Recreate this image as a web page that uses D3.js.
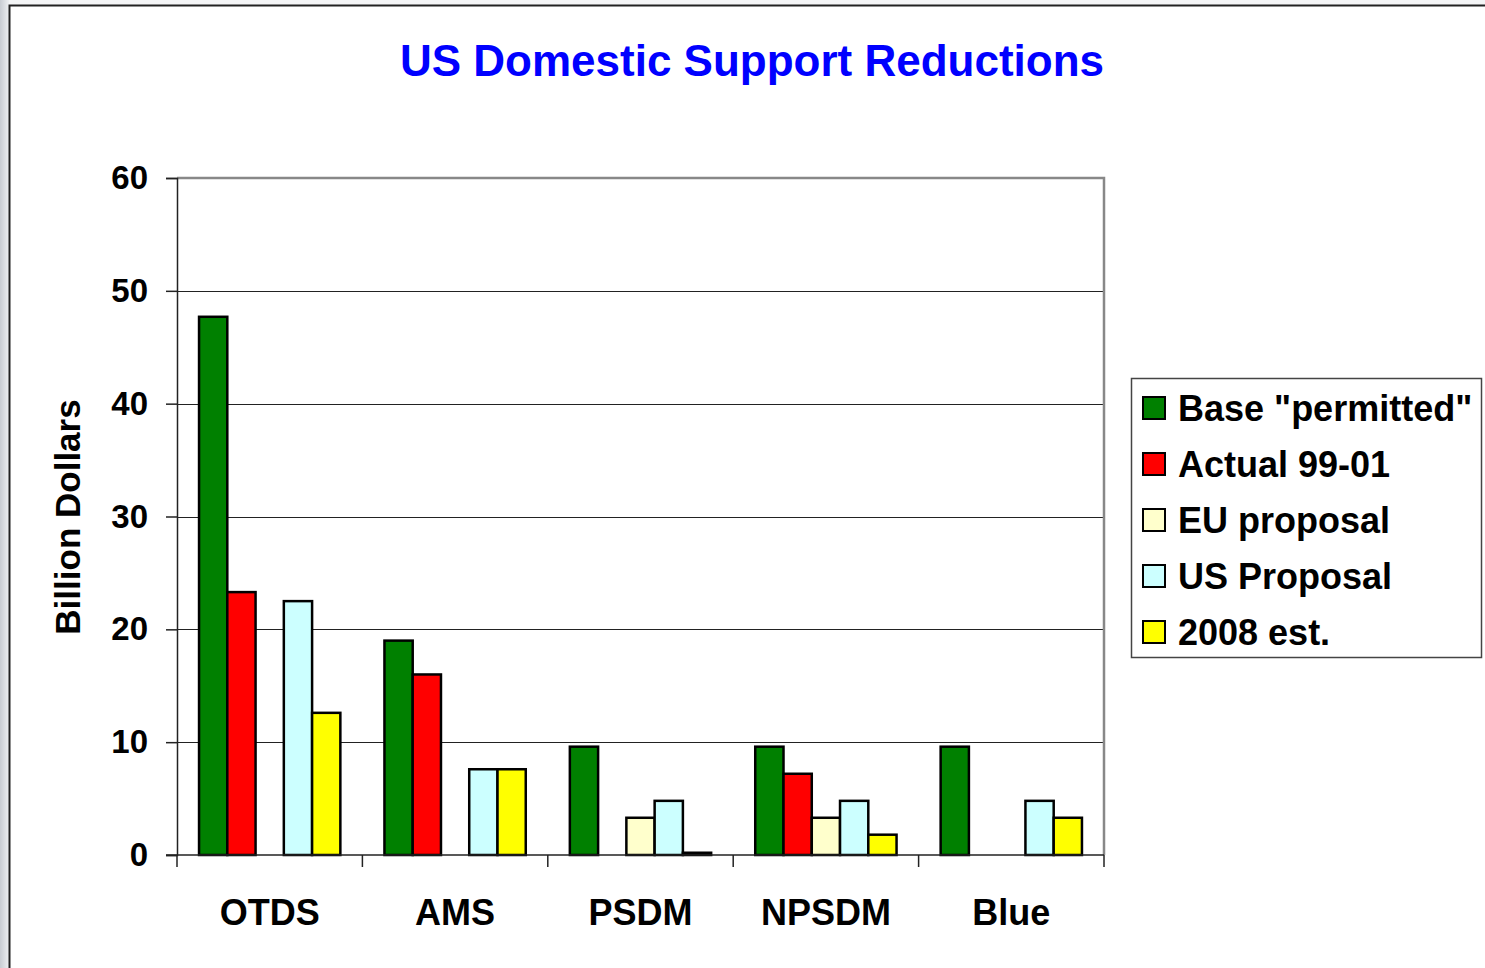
<!DOCTYPE html>
<html>
<head>
<meta charset="utf-8">
<script src="https://cdn.jsdelivr.net/npm/d3@7"></script>
<style>
  html, body { margin: 0; padding: 0; background: #fff; }
  svg { display: block; }
  text { font-family: "Liberation Sans", Arial, sans-serif; font-weight: bold; }
</style>
</head>
<body>
<svg id="chart" width="1485" height="968"></svg>
<script>
// Support categories and series (billion dollars)
const categories = ["OTDS", "AMS", "PSDM", "NPSDM", "Blue"];
const seriesNames = ["Base \"permitted\"", "Actual 99-01", "EU proposal", "US Proposal", "2008 est."];
const seriesColors = ["#008000", "#FF0000", "#FFFFCC", "#CCFFFF", "#FFFF00"];
const basePermitted = [47.7, 19.0, 9.6, 9.6, 9.6];
const actual9901   = [23.3, 16.0, 0, 7.2, 0];
const euProposal   = [0, 0, 3.3, 3.3, 0];
const usProposal   = [22.5, 7.6, 4.8, 4.8, 4.8];
const est2008      = [12.6, 7.6, 0.2, 1.8, 3.3];
const yTicks = [0, 10, 20, 30, 40, 50, 60];

const series = [basePermitted, actual9901, euProposal, usProposal, est2008];

const svg = d3.select("#chart");

// slide background strip and frame
const grad = svg.append("defs").append("linearGradient").attr("id", "edge")
  .attr("x1", 0).attr("x2", 1).attr("y1", 0).attr("y2", 0);
grad.append("stop").attr("offset", "0%").attr("stop-color", "#c8ccd2");
grad.append("stop").attr("offset", "100%").attr("stop-color", "#eef0f2");
svg.append("rect").attr("x", 0).attr("y", 0).attr("width", 9).attr("height", 968).attr("fill", "url(#edge)");
svg.append("rect").attr("x", 9).attr("y", 0).attr("width", 1476).attr("height", 5).attr("fill", "#f4f5f6");
svg.append("path").attr("d", "M9.5,968 V5.5 H1485").attr("fill", "none").attr("stroke", "#222").attr("stroke-width", 2);

const plot = { left: 177, right: 1104, top: 178, bottom: 855 };

const x0 = d3.scaleBand().domain(categories).range([plot.left, plot.right]).paddingInner(0).paddingOuter(0);
const x1 = d3.scaleBand().domain(d3.range(series.length)).range([0, x0.bandwidth()]).paddingInner(0).paddingOuter(0.78);
const y = d3.scaleLinear().domain([0, 60]).range([plot.bottom, plot.top]);

// gridlines
svg.append("g").selectAll("line").data(yTicks.filter(t => t > 0 && t < 60)).join("line")
  .attr("x1", plot.left).attr("x2", plot.right)
  .attr("y1", d => Math.round(y(d)) + 0.5).attr("y2", d => Math.round(y(d)) + 0.5)
  .attr("stroke", "#222").attr("stroke-width", 1);

// plot border (top/right grey)
svg.append("path")
  .attr("d", `M${plot.left},${plot.top} H${plot.right} V${plot.bottom}`)
  .attr("fill", "none").attr("stroke", "#888").attr("stroke-width", 2.5);

// bars
const groups = svg.append("g").selectAll("g").data(categories).join("g")
  .attr("transform", d => `translate(${x0(d)},0)`);
groups.selectAll("rect")
  .data((c, ci) => series.map((s, si) => ({ si, v: s[ci] })).filter(d => d.v > 0))
  .join("rect")
  .attr("x", d => x1(d.si))
  .attr("width", x1.bandwidth())
  .attr("y", d => y(d.v))
  .attr("height", d => y(0) - y(d.v))
  .attr("fill", d => seriesColors[d.si])
  .attr("stroke", "#000").attr("stroke-width", 2.5);

// y axis
const yAxis = d3.axisLeft(y).tickValues(yTicks).tickSize(11).tickPadding(18);
const ya = svg.append("g").attr("transform", `translate(${plot.left},0)`).call(yAxis);
ya.select(".domain").attr("stroke", "#222").attr("stroke-width", 1.5);
ya.selectAll(".tick line").attr("stroke", "#222").attr("stroke-width", 1.5);
ya.selectAll(".tick text").attr("font-size", 33).attr("fill", "#000")
  .attr("font-family", "Liberation Sans, Arial, sans-serif").attr("font-weight", "bold");

// x axis with ticks at category boundaries
const xa = svg.append("g").attr("transform", `translate(0,${plot.bottom})`);
xa.append("line").attr("x1", plot.left - 11).attr("x2", plot.right).attr("y1", 0).attr("y2", 0)
  .attr("stroke", "#222").attr("stroke-width", 1.5);
const bounds = categories.map(c => x0(c)).concat([plot.right]);
xa.selectAll(".bt").data(bounds).join("line").attr("class", "bt")
  .attr("x1", d => d).attr("x2", d => d).attr("y1", 0).attr("y2", 12)
  .attr("stroke", "#222").attr("stroke-width", 1.5);
xa.selectAll(".cl").data(categories).join("text").attr("class", "cl")
  .attr("x", d => x0(d) + x0.bandwidth() / 2).attr("y", 70)
  .attr("text-anchor", "middle").attr("font-size", 36).attr("fill", "#000")
  .text(d => d);

// y-axis title
svg.append("text")
  .attr("transform", `translate(80,517) rotate(-90)`)
  .attr("text-anchor", "middle").attr("font-size", 35).attr("fill", "#000")
  .text("Billion Dollars");

// chart title
svg.append("text").attr("x", 752).attr("y", 76).attr("text-anchor", "middle")
  .attr("font-size", 44).attr("fill", "#0000FF")
  .text("US Domestic Support Reductions");

// legend
const lg = svg.append("g");
lg.append("rect").attr("x", 1131.5).attr("y", 378.5).attr("width", 350).attr("height", 279)
  .attr("fill", "#fff").attr("stroke", "#444").attr("stroke-width", 1.5);
const items = lg.selectAll(".li").data(seriesNames).join("g").attr("class", "li")
  .attr("transform", (d, i) => `translate(1143,${397 + i * 56})`);
items.append("rect").attr("width", 22).attr("height", 22)
  .attr("fill", (d, i) => seriesColors[i]).attr("stroke", "#000").attr("stroke-width", 2);
items.append("text").attr("x", 35).attr("y", 24).attr("font-size", 36).attr("fill", "#000")
  .text(d => d);
</script>
</body>
</html>
